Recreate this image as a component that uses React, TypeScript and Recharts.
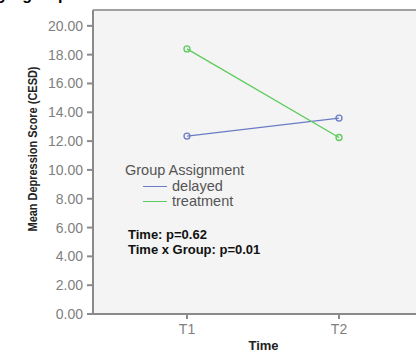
import { LineChart, Line, XAxis, YAxis, CartesianGrid, ReferenceLine } from 'recharts';

const times = ['T1', 'T2'];
const delayed = [12.35, 13.6];
const treatment = [18.4, 12.25];
const yTicks = [0, 2, 4, 6, 8, 10, 12, 14, 16, 18, 20];
const notes = ['Time: p=0.62', 'Time x Group: p=0.01'];

const data = times.map((t, i) => ({ time: t, delayed: delayed[i], treatment: treatment[i] }));

const series = [
  { key: 'delayed', color: '#6a7cc6' },
  { key: 'treatment', color: '#5ccc5c' },
];

const font = 'Liberation Sans, Arial, sans-serif';

// SPSS-style legend + test results, drawn over the plot area
const LegendBox = () => (
  <div style={{ position: 'absolute', left: 125, top: 161, fontFamily: font, color: '#555' }}>
    <div style={{ fontSize: 14.5, lineHeight: '18px' }}>Group Assignment</div>
    {series.map(s => (
      <div key={s.key} style={{ display: 'flex', alignItems: 'center', fontSize: 14.5, lineHeight: '15px', marginLeft: 18 }}>
        <span style={{ display: 'inline-block', width: 24, height: 0, borderTop: `1.5px solid ${s.color}`, marginRight: 5 }} />
        {s.key}
      </div>
    ))}
    <div style={{ marginTop: 18, marginLeft: 3, color: '#111', fontWeight: 'bold', fontSize: 13, lineHeight: '15px' }}>
      {notes.map(n => <div key={n}>{n}</div>)}
    </div>
  </div>
);

const YLabel = () => (
  <text x={37} y={149} transform="rotate(-90 37 149)" textAnchor="middle" fill="#222" fontSize={12.5} fontWeight="bold" fontFamily={font} textLength={165} lengthAdjust="spacingAndGlyphs">
    Mean Depression Score (CESD)
  </text>
);

const App = () => (
  <div style={{ position: 'absolute', left: 0, top: 0, width: 416, height: 353, overflow: 'hidden', background: '#fff' }}>
    <div style={{ position: 'absolute', left: -1, top: -13, fontFamily: font, fontWeight: 'bold', fontSize: 16, lineHeight: '16px', wordSpacing: 10, whiteSpace: 'nowrap' }}>
      y group
    </div>
    <LineChart width={440} height={353} data={data} margin={{ top: 10, right: 0, bottom: 0, left: 0 }}>
      <CartesianGrid horizontal={false} vertical={false} fill="#f4f4f4" />
      <XAxis
        dataKey="time"
        padding={{ left: 94, right: 101 }}
        height={39}
        tickSize={5}
        tickMargin={5}
        stroke="#8a8a8a"
        strokeWidth={2}
        tick={{ fill: '#808080', fontSize: 14, fontFamily: font }}
        label={{ value: 'Time', position: 'insideBottom', offset: 3, dx: -3, fill: '#222', fontSize: 13, fontWeight: 'bold', fontFamily: font }}
      />
      <YAxis
        width={93}
        domain={[0, 21.1]}
        ticks={yTicks}
        interval={0}
        tickFormatter={(v: number) => v.toFixed(2)}
        tickSize={6}
        tickMargin={4}
        stroke="#8a8a8a"
        strokeWidth={2}
        tick={{ fill: '#808080', fontSize: 14, fontFamily: font }}
        label={{ content: () => <YLabel /> }}
      />
      <ReferenceLine y={21.1} stroke="#a0a0a0" strokeWidth={2} />
      {series.map(s => (
        <Line
          key={s.key}
          dataKey={s.key}
          stroke={s.color}
          strokeWidth={1.3}
          dot={{ r: 3, stroke: s.color, strokeWidth: 1.3, fill: 'none' }}
          isAnimationActive={false}
        />
      ))}
    </LineChart>
    <LegendBox />
  </div>
);

export default App;
